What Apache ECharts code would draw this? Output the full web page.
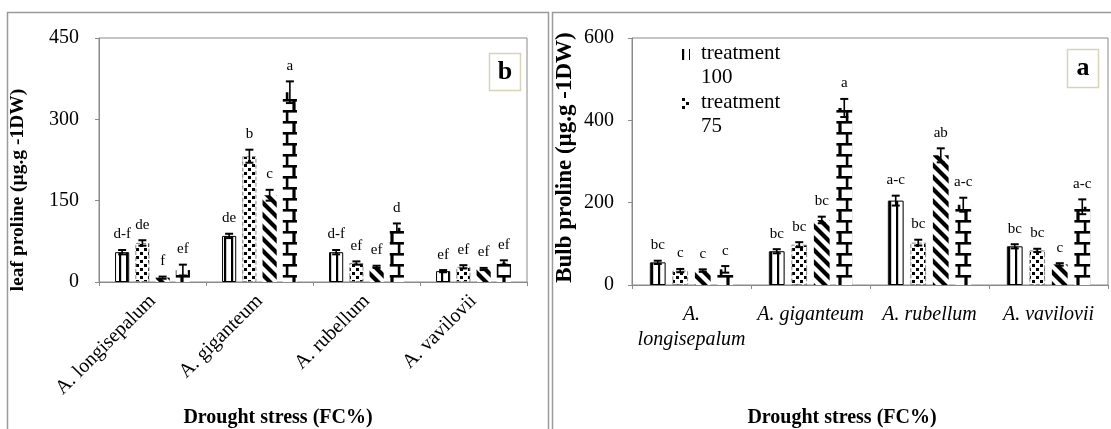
<!DOCTYPE html>
<html><head><meta charset="utf-8">
<script src="https://cdn.jsdelivr.net/npm/echarts@6/dist/echarts.min.js"></script>
<style>html,body{margin:0;padding:0;background:#fff}#c{width:1111px;height:429px}</style>
</head><body><div id="c"></div>
<script>
// ---------- data ----------
const categories = ['A. longisepalum', 'A. giganteum', 'A. rubellum', 'A. vavilovii'];
const seriesNames = ['treatment 100', 'treatment 75', 'treatment 50', 'treatment 25'];
const legendNames = ['treatment 100', 'treatment 75'];

// leaf proline (panel b)
const leafTicks = [0, 150, 300, 450];
const leaf100 = [55, 85, 55, 20];
const leaf75  = [72, 232, 35, 28];
const leaf50  = [8, 160, 28, 24];
const leaf25  = [22, 350, 100, 36];
const leafErr100 = [4, 4, 4, 2];
const leafErr75  = [5, 12, 3, 3];
const leafErr50  = [2, 10, 2, 2];
const leafErr25  = [10, 20, 8, 4];
const leafLet100 = ['d-f', 'de', 'd-f', 'ef'];
const leafLet75  = ['de', 'b', 'ef', 'ef'];
const leafLet50  = ['f', 'c', 'ef', 'ef'];
const leafLet25  = ['ef', 'a', 'd', 'ef'];

// bulb proline (panel a)
const bulbTicks = [0, 200, 400, 600];
const bulb100 = [55, 82, 205, 94];
const bulb75  = [35, 98, 103, 84];
const bulb50  = [35, 158, 315, 50];
const bulb25  = [38, 430, 195, 190];
const bulbErr100 = [4, 5, 12, 5];
const bulbErr75  = [4, 6, 7, 4];
const bulbErr50  = [3, 8, 17, 3];
const bulbErr25  = [8, 22, 17, 18];
const bulbLet100 = ['bc', 'bc', 'a-c', 'bc'];
const bulbLet75  = ['c', 'bc', 'bc', 'bc'];
const bulbLet50  = ['c', 'bc', 'ab', 'c'];
const bulbLet25  = ['c', 'a', 'a-c', 'a-c'];

// ---------- styling ----------
const FONT = '"Liberation Serif", "Times New Roman", serif';
const CAT_GAP = 0.30, BAR_GAP = 0.43;
const AX = '#8a8a8a';

function mk(w, h, draw) {
  const c = document.createElement('canvas'); c.width = w; c.height = h;
  const g = c.getContext('2d'); g.fillStyle = '#fff'; g.fillRect(0, 0, w, h);
  g.fillStyle = '#000'; g.strokeStyle = '#000'; draw(g); return c;
}
const pat100 = { image: mk(7, 4, g => { g.fillRect(0, 0, 2.2, 4); }), repeat: 'repeat' };
const pat75 = { image: mk(8, 8, g => { g.fillRect(0, 0, 3, 3); g.fillRect(4, 4, 3, 3); }), repeat: 'repeat' };
const pat50 = { image: mk(12, 12, g => {
  g.lineWidth = 4.2; g.beginPath();
  for (const k of [-12, 0, 12]) { g.moveTo(k - 12, -12); g.lineTo(k + 24, 24); }
  g.stroke(); }), repeat: 'repeat' };
const pat25 = { image: mk(14, 22, g => {
  g.fillRect(0, 0, 14, 2.6); g.fillRect(0, 11, 14, 2.6);
  g.fillRect(5.8, 0, 2.6, 11); g.fillRect(0, 11, 1.6, 11); g.fillRect(12.4, 11, 1.6, 11); }), repeat: 'repeat' };
const pats = [pat100, pat75, pat50, pat25];
const borders = [
  { borderColor: '#000', borderWidth: 1 },
  { borderColor: '#888', borderWidth: 1, borderType: 'dashed' },
  { borderWidth: 0 },
  { borderWidth: 0 }
];
// legend icon: small rect at top-left of a larger (invisible) box, so it sits beside the first text line
const LEGEND_ICON = 'path://M0,0L8,0L8,11L0,11Z M14,33L14.01,33L14.01,33.01Z';

function errRender(si, letters) {
  return function (params, api) {
    const cat = api.value(0), v = api.value(1), e = api.value(2);
    const band = api.size([1, 0])[0];
    const bw = band * (1 - CAT_GAP) / (4 + 3 * BAR_GAP);
    const x = api.coord([cat, v])[0] + (si - 1.5) * bw * (1 + BAR_GAP);
    const top = api.coord([cat, v + e])[1];
    const bot = api.coord([cat, Math.max(v - e, 0)])[1];
    const cap = 4;
    return { type: 'group', children: [
      { type: 'line', shape: { x1: x, y1: top, x2: x, y2: bot }, style: { stroke: '#000', lineWidth: 1.6 } },
      { type: 'line', shape: { x1: x - cap, y1: top, x2: x + cap, y2: top }, style: { stroke: '#000', lineWidth: 2 } },
      { type: 'line', shape: { x1: x - cap, y1: bot, x2: x + cap, y2: bot }, style: { stroke: '#000', lineWidth: 2 } },
      { type: 'text', style: { text: letters[params.dataIndex], x: x, y: top - 8, align: 'center', verticalAlign: 'bottom',
        font: '15px ' + FONT, fill: '#000' } }
    ] };
  };
}

function panelSeries(gi, vals, errs, lets) {
  const out = [];
  vals.forEach((arr, si) => {
    out.push({ type: 'bar', name: seriesNames[si], xAxisIndex: gi, yAxisIndex: gi, data: arr,
      barCategoryGap: (CAT_GAP * 100) + '%', barGap: (BAR_GAP * 100) + '%',
      itemStyle: Object.assign({ color: pats[si] }, borders[si]), emphasis: { disabled: true } });
  });
  vals.forEach((arr, si) => {
    out.push({ type: 'custom', xAxisIndex: gi, yAxisIndex: gi, z: 5, silent: true,
      renderItem: errRender(si, lets[si]),
      data: arr.map((v, i) => [i, v, errs[si][i]]) });
  });
  return out;
}

const series = [].concat(
  panelSeries(0, [leaf100, leaf75, leaf50, leaf25], [leafErr100, leafErr75, leafErr50, leafErr25], [leafLet100, leafLet75, leafLet50, leafLet25]),
  panelSeries(1, [bulb100, bulb75, bulb50, bulb25], [bulbErr100, bulbErr75, bulbErr50, bulbErr25], [bulbLet100, bulbLet75, bulbLet50, bulbLet25])
);

const axisLine = { show: true, lineStyle: { color: AX, width: 1 } };
const axisTick = { show: true, length: 4, lineStyle: { color: AX } };

const chart = echarts.init(document.getElementById('c'));
chart.setOption({
  animation: false,
  backgroundColor: '#fff',
  textStyle: { fontFamily: FONT },
  grid: [
    { left: 99, right: 584, top: 38, bottom: 147, containLabel: false, outerBoundsMode: 'none',
      show: true, borderColor: AX, borderWidth: 1, backgroundColor: 'transparent' },
    { left: 632, right: 3, top: 38, bottom: 144, containLabel: false, outerBoundsMode: 'none',
      show: true, borderColor: AX, borderWidth: 1, backgroundColor: 'transparent' }
  ],
  legend: {
    data: legendNames, orient: 'vertical', left: 682, top: 41, padding: 0, itemGap: 0,
    itemWidth: 14, itemHeight: 33, icon: LEGEND_ICON, selectedMode: false,
    itemStyle: { borderWidth: 0 },
    formatter: n => n.replace(' ', '\n'),
    textStyle: { fontFamily: FONT, fontSize: 21, color: '#000', lineHeight: 24.5 }
  },
  xAxis: [
    { type: 'category', gridIndex: 0, data: categories, axisLine, axisTick,
      axisLabel: { interval: 0, rotate: 45, margin: 16, fontSize: 20, color: '#000', fontFamily: FONT },
      name: 'Drought stress (FC%)', nameLocation: 'middle', nameGap: 126,
      nameTextStyle: { fontSize: 20, fontWeight: 'bold', color: '#000', fontFamily: FONT, padding: [0, 70, 0, 0] } },
    { type: 'category', gridIndex: 1, data: categories, axisLine, axisTick,
      axisLabel: { interval: 0, margin: 17, fontSize: 20, fontStyle: 'italic', color: '#000', fontFamily: FONT, lineHeight: 25,
        formatter: v => v === 'A. longisepalum' ? 'A.\nlongisepalum' : v },
      name: 'Drought stress (FC%)', nameLocation: 'middle', nameGap: 123,
      nameTextStyle: { fontSize: 20, fontWeight: 'bold', color: '#000', fontFamily: FONT, padding: [0, 56, 0, 0] } }
  ],
  yAxis: [
    { type: 'value', gridIndex: 0, min: leafTicks[0], max: leafTicks[leafTicks.length - 1], interval: leafTicks[1] - leafTicks[0],
      axisLine, axisTick, splitLine: { show: false },
      axisLabel: { margin: 20, fontSize: 20, color: '#000', fontFamily: FONT },
      name: 'leaf proline (µg.g -1DW)', nameLocation: 'middle', nameGap: 71, nameRotate: 90,
      nameTextStyle: { fontSize: 19.5, fontWeight: 'bold', color: '#000', fontFamily: FONT, padding: [0, 60, 0, 0] } },
    { type: 'value', gridIndex: 1, min: bulbTicks[0], max: bulbTicks[bulbTicks.length - 1], interval: bulbTicks[1] - bulbTicks[0],
      axisLine, axisTick, splitLine: { show: false },
      axisLabel: { margin: 18, fontSize: 20, color: '#000', fontFamily: FONT },
      name: 'Bulb proline (µg.g -1DW)', nameLocation: 'middle', nameGap: 55, nameRotate: 90,
      nameTextStyle: { fontSize: 23, fontWeight: 'bold', color: '#000', fontFamily: FONT, padding: [0, 0, 0, 8] } }
  ],
  graphic: [
    { type: 'rect', shape: { x: 7.5, y: 12.5, width: 541, height: 440 }, style: { fill: 'none', stroke: '#9a9a9a', lineWidth: 1.5 }, z: -1 },
    { type: 'rect', shape: { x: 552.5, y: 12.5, width: 570, height: 440 }, style: { fill: 'none', stroke: '#9a9a9a', lineWidth: 1.5 }, z: -1 },
    { type: 'rect', shape: { x: 489.5, y: 53.5, width: 31, height: 37 }, style: { fill: '#fff', stroke: '#d8d3bb', lineWidth: 1.5 } },
    { type: 'text', style: { text: 'b', x: 505, y: 72, align: 'center', verticalAlign: 'middle', font: 'bold 26px ' + FONT, fill: '#000' } },
    { type: 'rect', shape: { x: 1067.5, y: 49.5, width: 31, height: 38 }, style: { fill: '#fff', stroke: '#d8d3bb', lineWidth: 1.5 } },
    { type: 'text', style: { text: 'a', x: 1083, y: 68, align: 'center', verticalAlign: 'middle', font: 'bold 26px ' + FONT, fill: '#000' } }
  ],
  series
});
</script></body></html>
